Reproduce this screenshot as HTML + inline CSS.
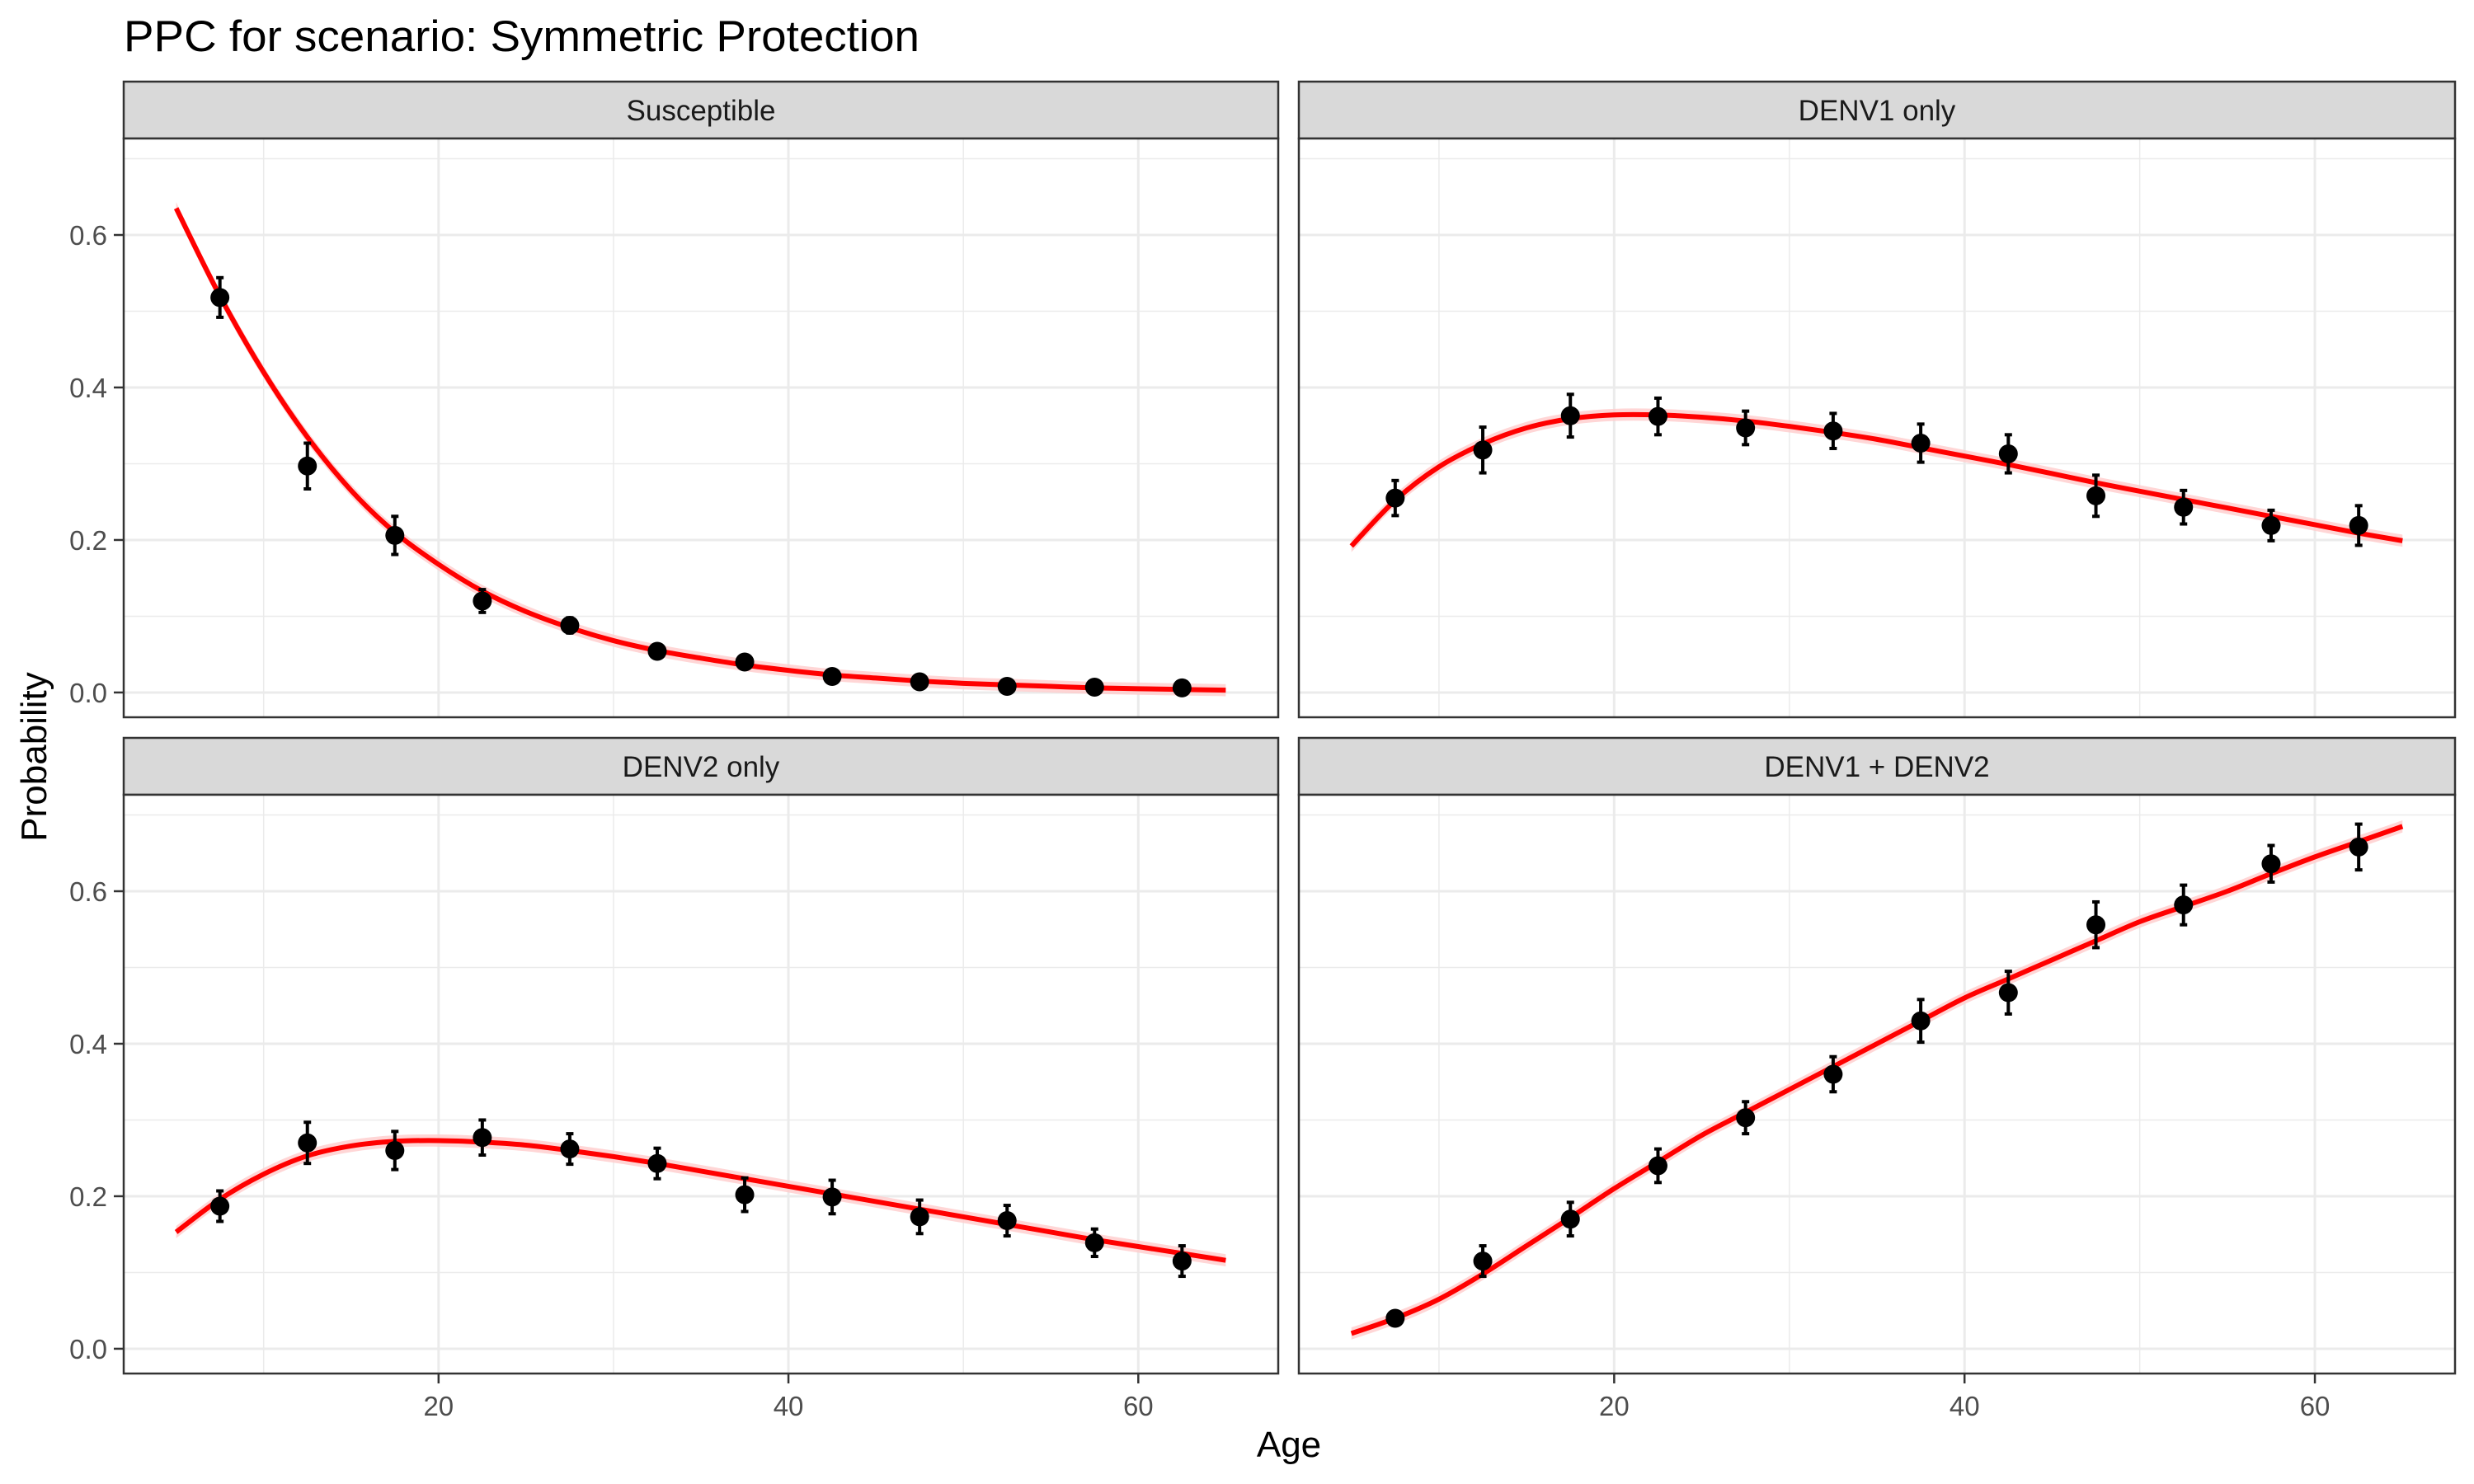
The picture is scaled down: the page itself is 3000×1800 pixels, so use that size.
<!DOCTYPE html>
<html><head><meta charset="utf-8"><style>
html,body{margin:0;padding:0;background:#fff;}
svg{display:block;font-family:"Liberation Sans",Arial,sans-serif;}
</style></head><body>
<svg id="chart" width="3000" height="1800" viewBox="0 0 3000 1800" xmlns="http://www.w3.org/2000/svg">
<rect width="3000" height="1800" fill="#fff"/>
<text x="150" y="62" font-size="53" fill="#000" textLength="965" lengthAdjust="spacingAndGlyphs">PPC for scenario: Symmetric Protection</text>
<text x="1563" y="1767" font-size="44" text-anchor="middle" fill="#000">Age</text>
<text transform="translate(56,918) rotate(-90)" font-size="44" text-anchor="middle" fill="#000">Probability</text>
<g id="panels"></g>
</svg>
<script>
const panelTitles = ["Susceptible","DENV1 only","DENV2 only","DENV1 + DENV2"];
const pointAges = [7.5,12.5,17.5,22.5,27.5,32.5,37.5,42.5,47.5,52.5,57.5,62.5];
const obsSusceptible = [0.518,0.297,0.206,0.120,0.088,0.054,0.040,0.021,0.014,0.008,0.007,0.006];
const errSusceptible = [0.026,0.030,0.025,0.015,0.010,0.006,0.006,0.004,0.004,0.003,0.003,0.003];
const obsDenv1 = [0.255,0.318,0.363,0.362,0.347,0.343,0.327,0.313,0.258,0.243,0.219,0.219];
const errDenv1 = [0.023,0.030,0.028,0.024,0.022,0.023,0.025,0.025,0.027,0.022,0.020,0.026];
const obsDenv2 = [0.187,0.270,0.260,0.277,0.262,0.243,0.202,0.199,0.173,0.168,0.139,0.115];
const errDenv2 = [0.020,0.027,0.025,0.023,0.020,0.020,0.022,0.022,0.022,0.020,0.018,0.020];
const obsBoth = [0.040,0.115,0.170,0.240,0.303,0.360,0.430,0.467,0.556,0.582,0.636,0.658];
const errBoth = [0.005,0.020,0.022,0.022,0.021,0.023,0.028,0.028,0.030,0.026,0.024,0.030];
const curveAges = [5,7.5,10,12.5,15,17.5,20,22.5,25,27.5,30,32.5,35,37.5,40,42.5,45,47.5,50,52.5,55,57.5,60,62.5,65];
const fitSusceptible = [0.635,0.52,0.42,0.335,0.265,0.21,0.168,0.133,0.106,0.085,0.068,0.055,0.045,0.036,0.029,0.023,0.019,0.015,0.012,0.010,0.008,0.006,0.005,0.004,0.003];
const fitDenv1 = [0.192,0.252,0.296,0.326,0.347,0.359,0.364,0.364,0.361,0.356,0.349,0.341,0.332,0.321,0.310,0.299,0.287,0.275,0.264,0.253,0.242,0.231,0.220,0.209,0.199];
const fitDenv2 = [0.153,0.196,0.229,0.253,0.266,0.272,0.273,0.271,0.267,0.260,0.252,0.243,0.233,0.223,0.213,0.203,0.193,0.183,0.173,0.163,0.153,0.143,0.134,0.125,0.116];
const fitBoth = [0.020,0.040,0.065,0.098,0.135,0.172,0.210,0.245,0.280,0.310,0.340,0.370,0.400,0.430,0.460,0.485,0.510,0.535,0.560,0.580,0.600,0.623,0.645,0.665,0.685];
const yTicks = [0,0.2,0.4,0.6];
const yTickLabels = ["0.0","0.2","0.4","0.6"];
const yMinor = [0.1,0.3,0.5,0.7];
const xTicks = [20,40,60];
const xTickLabels = ["20","40","60"];
const xMinor = [10,30,50];

const obsList=[obsSusceptible,obsDenv1,obsDenv2,obsBoth];
const errList=[errSusceptible,errDenv1,errDenv2,errBoth];
const fitList=[fitSusceptible,fitDenv1,fitDenv2,fitBoth];
const NS="http://www.w3.org/2000/svg";
const root=document.getElementById('panels');
const XD=[2,68], YD=[-0.0325,0.7265];
const layouts=[[150,1550,168,870],[1575,2977,168,870],[150,1550,964,1666],[1575,2977,964,1666]];
function mk(tag,attrs,parent){const e=document.createElementNS(NS,tag);for(const k in attrs)e.setAttribute(k,attrs[k]);(parent||root).appendChild(e);return e;}
function path(pts){let d="M"+pts[0][0]+","+pts[0][1];for(let i=0;i<pts.length-1;i++){const p0=pts[Math.max(0,i-1)],p1=pts[i],p2=pts[i+1],p3=pts[Math.min(pts.length-1,i+2)];d+=" C"+(p1[0]+(p2[0]-p0[0])/6)+","+(p1[1]+(p2[1]-p0[1])/6)+" "+(p2[0]-(p3[0]-p1[0])/6)+","+(p2[1]-(p3[1]-p1[1])/6)+" "+p2[0]+","+p2[1];}return d;}
layouts.forEach((L,pi)=>{
  const [x0,x1,y0,y1]=L;
  const sx=v=>x0+(v-XD[0])/(XD[1]-XD[0])*(x1-x0);
  const sy=v=>y1-(v-YD[0])/(YD[1]-YD[0])*(y1-y0);
  const g=mk('g',{});
  
  
  mk('rect',{x:x0,y:y0-69,width:x1-x0,height:69,fill:'#d9d9d9',stroke:'#333','stroke-width':2.5},g);
  const st=mk('text',{x:(x0+x1)/2,y:y0-22,'font-size':35,'text-anchor':'middle',fill:'#1a1a1a'},g);
  st.textContent=panelTitles[pi];
  
  
  mk('rect',{x:x0,y:y0,width:x1-x0,height:y1-y0,fill:'#fff'},g);
  yMinor.forEach(v=>mk('line',{x1:x0,x2:x1,y1:sy(v),y2:sy(v),stroke:'#ebebeb','stroke-width':1.5},g));
  xMinor.forEach(v=>mk('line',{x1:sx(v),x2:sx(v),y1:y0,y2:y1,stroke:'#ebebeb','stroke-width':1.5},g));
  yTicks.forEach(v=>mk('line',{x1:x0,x2:x1,y1:sy(v),y2:sy(v),stroke:'#ebebeb','stroke-width':3},g));
  xTicks.forEach(v=>mk('line',{x1:sx(v),x2:sx(v),y1:y0,y2:y1,stroke:'#ebebeb','stroke-width':3},g));
  const fit=fitList[pi];
  const up=curveAges.map((a,i)=>[sx(a),sy(fit[i]+0.008)]);
  const dn=curveAges.map((a,i)=>[sx(a),sy(fit[i]-0.008)]).reverse();
  const band=mk('path',{d:path(up)+" L"+dn[0][0]+","+dn[0][1]+" "+path(dn).slice(1)+" Z",fill:'#ffcccc','fill-opacity':0.8},g);
  
  
  const ln=mk('path',{d:path(curveAges.map((a,i)=>[sx(a),sy(fit[i])])),fill:'none',stroke:'#ff0000','stroke-width':6},g);
  
  
  const obs=obsList[pi],err=errList[pi];
  pointAges.forEach((a,i)=>{
    const cx=sx(a),t=sy(obs[i]+err[i]),b=sy(obs[i]-err[i]);
    mk('line',{x1:cx,x2:cx,y1:t,y2:b,stroke:'#000','stroke-width':4},g);
    mk('line',{x1:cx-4.5,x2:cx+4.5,y1:t,y2:t,stroke:'#000','stroke-width':4},g);
    mk('line',{x1:cx-4.5,x2:cx+4.5,y1:b,y2:b,stroke:'#000','stroke-width':4},g);
    const c=mk('circle',{cx:cx,cy:sy(obs[i]),r:11.5,fill:'#000'},g);
    
    
  });
  mk('rect',{x:x0,y:y0,width:x1-x0,height:y1-y0,fill:'none',stroke:'#333','stroke-width':2.5},g);
  if(pi%2===0){
    yTicks.forEach((v,i)=>{
      mk('line',{x1:x0-12,x2:x0,y1:sy(v),y2:sy(v),stroke:'#333','stroke-width':2.5},g);
      const t=mk('text',{x:x0-20,y:sy(v)+12,'font-size':33,'text-anchor':'end',fill:'#4d4d4d'},g);
      t.textContent=yTickLabels[i];
      
      
    });
  }
  if(pi>=2){
    xTicks.forEach((v,i)=>{
      mk('line',{x1:sx(v),x2:sx(v),y1:y1,y2:y1+12,stroke:'#333','stroke-width':2.5},g);
      const t=mk('text',{x:sx(v),y:y1+51,'font-size':33,'text-anchor':'middle',fill:'#4d4d4d'},g);
      t.textContent=xTickLabels[i];
      
      
    });
  }
});
</script>
</body></html>
